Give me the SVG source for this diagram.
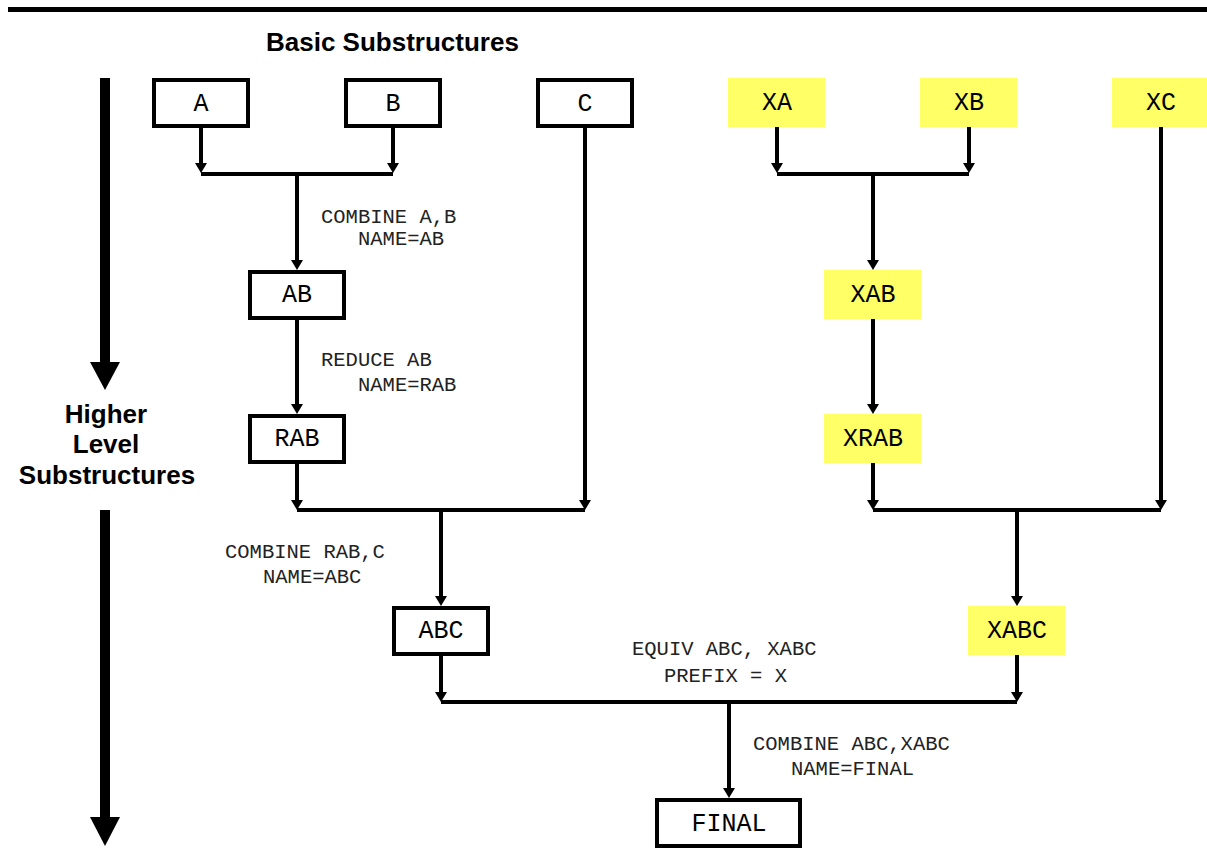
<svg xmlns="http://www.w3.org/2000/svg" width="1207" height="867" viewBox="0 0 1207 867">
<style>
.box{fill:#ffffff;stroke:#000000;stroke-width:4}
.ybox{fill:#ffff66;stroke:none}
.bl{font-family:"Liberation Mono","Courier New",monospace;font-size:25px;fill:#000;text-anchor:middle}
.lab{font-family:"Liberation Mono","Courier New",monospace;font-size:20.5px;fill:#222}
.hd{font-family:"Liberation Sans",Arial,sans-serif;font-size:26px;font-weight:bold;fill:#000}
.c{fill:none;stroke:#000;stroke-width:4}
.a{marker-end:url(#ah)}
</style>
<defs>
<marker id="ah" markerUnits="userSpaceOnUse" markerWidth="12" markerHeight="12" refX="5" refY="6" orient="auto" viewBox="0 0 10 12">
<path d="M0,0 L10,6 L0,12 z" fill="#000"/>
</marker>
</defs>
<rect x="8" y="7" width="1199" height="5" fill="#000"/>
<text class="hd" x="266" y="51">Basic Substructures</text>
<g id="level-arrow">
<rect x="100" y="78" width="10" height="285" fill="#000"/>
<polygon points="90,362 120,362 105,390" fill="#000"/>
<text class="hd" x="106" y="423" text-anchor="middle">Higher</text>
<text class="hd" x="106" y="453" text-anchor="middle">Level</text>
<text class="hd" x="107" y="484" text-anchor="middle">Substructures</text>
<rect x="100" y="510" width="10" height="308" fill="#000"/>
<polygon points="90,817 120,817 105,846" fill="#000"/>
</g>
<g id="connectors">
<path class="c a" d="M201 128 V168"/>
<path class="c a" d="M393 128 V168"/>
<path class="c" d="M201 174 H393"/>
<path class="c a" d="M297 174 V265"/>
<path class="c a" d="M297 320 V409"/>
<path class="c a" d="M297 464 V505"/>
<path class="c a" d="M585 128 V505"/>
<path class="c" d="M297 510 H585"/>
<path class="c a" d="M441 510 V601"/>
<path class="c a" d="M441 656 V697"/>
<path class="c a" d="M1017 655 V697"/>
<path class="c" d="M441 702 H1017"/>
<path class="c a" d="M729 702 V793"/>
<path class="c a" d="M777 127 V168"/>
<path class="c a" d="M969 127 V168"/>
<path class="c" d="M777 174 H969"/>
<path class="c a" d="M873 174 V265"/>
<path class="c a" d="M873 319 V409"/>
<path class="c a" d="M873 463 V505"/>
<path class="c a" d="M1161 127 V505"/>
<path class="c" d="M873 510 H1161"/>
<path class="c a" d="M1017 510 V601"/>
</g>
<g id="labels">
<text class="lab" x="321" y="223">COMBINE A,B</text>
<text class="lab" x="358" y="245">NAME=AB</text>
<text class="lab" x="321" y="366">REDUCE AB</text>
<text class="lab" x="358" y="391">NAME=RAB</text>
<text class="lab" x="225" y="558">COMBINE RAB,C</text>
<text class="lab" x="263" y="583">NAME=ABC</text>
<text class="lab" x="632" y="655">EQUIV ABC, XABC</text>
<text class="lab" x="664" y="682">PREFIX = X</text>
<text class="lab" x="753" y="750">COMBINE ABC,XABC</text>
<text class="lab" x="791" y="775">NAME=FINAL</text>
</g>
<g id="A"><rect class="box" x="154" y="80" width="94" height="46"/><text class="bl" x="201" y="111">A</text></g>
<g id="B"><rect class="box" x="346" y="80" width="94" height="46"/><text class="bl" x="393" y="111">B</text></g>
<g id="C"><rect class="box" x="538" y="80" width="94" height="46"/><text class="bl" x="585" y="111">C</text></g>
<g id="AB"><rect class="box" x="250" y="272" width="94" height="46"/><text class="bl" x="297" y="302">AB</text></g>
<g id="RAB"><rect class="box" x="250" y="416" width="94" height="46"/><text class="bl" x="297" y="446">RAB</text></g>
<g id="ABC"><rect class="box" x="394" y="608" width="94" height="46"/><text class="bl" x="441" y="638">ABC</text></g>
<g id="FINAL"><rect class="box" x="657" y="800" width="143" height="46"/><text class="bl" x="729" y="831">FINAL</text></g>
<g id="XA"><rect class="ybox" x="728" y="78" width="97" height="49"/><text class="bl" x="777" y="110">XA</text></g>
<g id="XB"><rect class="ybox" x="920" y="78" width="97" height="49"/><text class="bl" x="969" y="110">XB</text></g>
<g id="XC"><rect class="ybox" x="1112" y="78" width="97" height="49"/><text class="bl" x="1161" y="110">XC</text></g>
<g id="XAB"><rect class="ybox" x="824" y="270" width="97" height="49"/><text class="bl" x="873" y="302">XAB</text></g>
<g id="XRAB"><rect class="ybox" x="824" y="414" width="97" height="49"/><text class="bl" x="873" y="446">XRAB</text></g>
<g id="XABC"><rect class="ybox" x="968" y="606" width="97" height="49"/><text class="bl" x="1017" y="638">XABC</text></g>
</svg>
